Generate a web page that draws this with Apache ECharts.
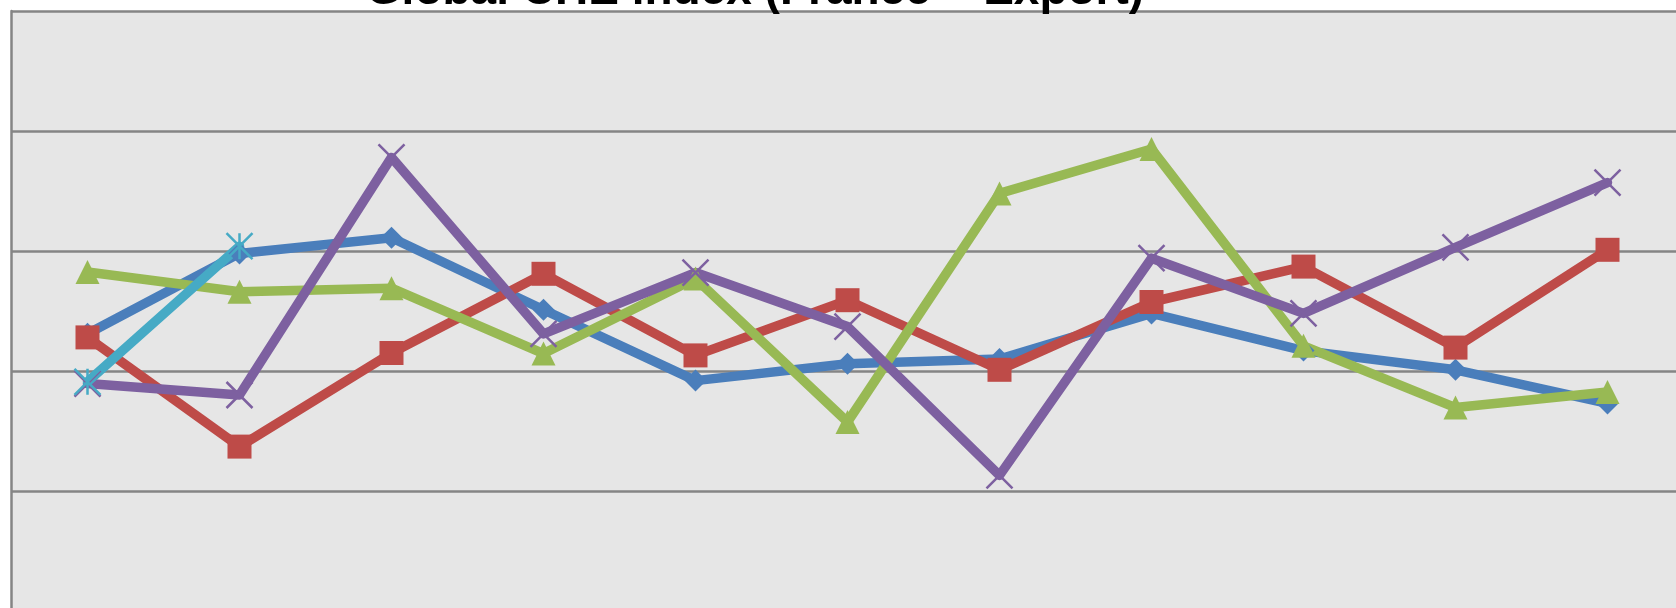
<!DOCTYPE html>
<html>
<head>
<meta charset="utf-8">
<script src="https://cdn.jsdelivr.net/npm/echarts@6/dist/echarts.min.js"></script>
<style>
html,body{margin:0;padding:0;background:#ffffff;overflow:hidden;width:1676px;height:608px;}
#chart{width:1690px;height:620px;}
</style>
</head>
<body>
<div id="chart"></div>
<script>
var titleText = 'Global CHE index (France + Export)';
var categories = ['1','2','3','4','5','6','7','8','9','10','11'];
var seriesBlue = [103.1, 109.8, 111.1, 105.1, 99.2, 100.6, 101.0, 104.8, 101.7, 100.1, 97.3];
var seriesRed = [102.8, 93.7, 101.5, 108.1, 101.3, 105.9, 100.1, 105.75, 108.7, 101.95, 110.1];
var seriesGreen = [108.25, 106.6, 106.9, 101.45, 107.7, 95.75, 114.8, 118.5, 102.1, 96.95, 98.25];
var seriesPurple = [98.95, 98.0, 117.8, 103.1, 108.2, 103.7, 91.3, 109.4, 104.8, 110.3, 115.7];
var seriesCyan = [99.1, 110.4, null, null, null, null, null, null, null, null, null];
var yTicks = {min: 80, max: 130, interval: 10};

var chart = echarts.init(document.getElementById('chart'));

function lineSeries(name, data, color, symbol, size, stroked) {
  return {
    name: name,
    type: 'line',
    data: data,
    symbol: symbol,
    symbolSize: size,
    showAllSymbol: true,
    connectNulls: false,
    lineStyle: {color: color, width: 9.5, cap: 'round', join: 'round'},
    itemStyle: stroked ? {color: 'rgba(0,0,0,0)', borderColor: color, borderWidth: 2.5} : {color: color, borderWidth: 0},
    emphasis: {disabled: true}
  };
}

chart.setOption({
  animation: false,
  backgroundColor: '#ffffff',
  graphic: [{
    type: 'text',
    z: 100,
    style: {
      text: titleText,
      x: 755,
      y: 14,
      textAlign: 'center',
      textVerticalAlign: 'bottom',
      font: 'bold 46px "Liberation Sans", Arial, sans-serif',
      fill: '#000000'
    }
  }],
  grid: {
    left: 11.5, top: 11, right: 6.5, bottom: 9,
    show: true,
    backgroundColor: '#e6e6e6',
    borderWidth: 0
  },
  xAxis: {
    type: 'category',
    data: categories,
    boundaryGap: true,
    axisLabel: {show: false},
    axisTick: {show: false},
    axisLine: {show: false},
    splitLine: {show: false}
  },
  yAxis: {
    type: 'value',
    min: yTicks.min, max: yTicks.max, interval: yTicks.interval,
    axisLabel: {show: false},
    axisTick: {show: false},
    axisLine: {show: true, lineStyle: {color: '#858585', width: 2.5}},
    splitLine: {show: true, lineStyle: {color: '#858585', width: 2.5}}
  },
  series: [
    lineSeries('Series 1', seriesBlue, '#4A7EBB', 'diamond', 22, false),
    lineSeries('Series 2', seriesRed, '#BE4B48', 'rect', 24, false),
    lineSeries('Series 3', seriesGreen, '#98B954', 'triangle', 24, false),
    lineSeries('Series 4', seriesPurple, '#7D60A0', 'path://M0,0L10,10M10,0L0,10', 26, true),
    lineSeries('Series 5', seriesCyan, '#46AAC5', 'path://M0,0L10,10M10,0L0,10M5,0L5,10', 26, true)
  ]
});
</script>
</body>
</html>
